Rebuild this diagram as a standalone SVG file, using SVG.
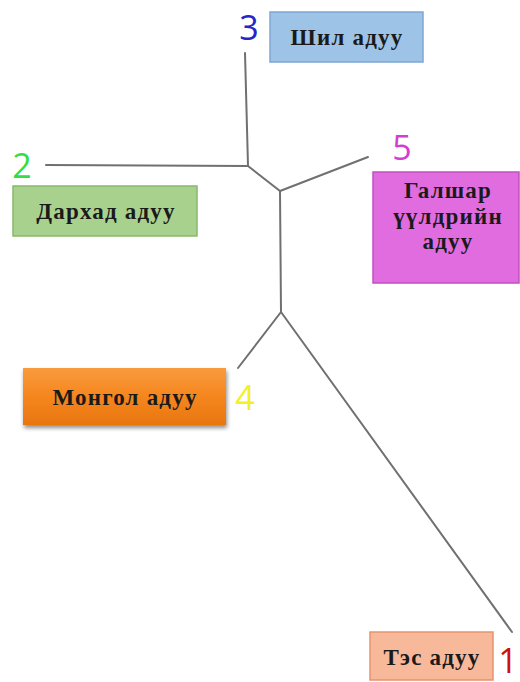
<svg xmlns="http://www.w3.org/2000/svg" width="520" height="682" viewBox="0 0 520 682">
<defs>
<linearGradient id="orange" x1="0" y1="0" x2="0" y2="1">
<stop offset="0" stop-color="#f99b3e"/>
<stop offset="0.5" stop-color="#f5861f"/>
<stop offset="1" stop-color="#e8760f"/>
</linearGradient>
<filter id="shadow" x="-10%" y="-10%" width="125%" height="135%">
<feGaussianBlur in="SourceAlpha" stdDeviation="2"/>
<feOffset dx="1" dy="3"/>
<feComponentTransfer><feFuncA type="linear" slope="0.45"/></feComponentTransfer>
<feMerge><feMergeNode/><feMergeNode in="SourceGraphic"/></feMerge>
</filter>
</defs>
<style>
.lbl{font-family:"Liberation Serif","Times New Roman",serif;font-weight:bold;font-size:23px;letter-spacing:1.2px;fill:#1a1a1a;text-anchor:middle}
.num{font-family:"Open Sans","Liberation Sans",sans-serif;font-size:34px;text-anchor:middle}
.edge{stroke:#707070;stroke-width:2;fill:none;stroke-linecap:round;stroke-linejoin:round}
</style>
<rect width="520" height="682" fill="#ffffff"/>
<g id="connectors">
<polyline class="edge" points="245,53 248,166 280,191 281,312 512,632"/>
<line class="edge" x1="46" y1="165" x2="248" y2="166"/>
<line class="edge" x1="280" y1="191" x2="368" y2="157"/>
<line class="edge" x1="281" y1="312" x2="238" y2="368"/>
</g>
<g id="node3">
<rect x="270" y="12" width="153" height="50" fill="#9dc3e6" stroke="#7fa6d2" stroke-width="1.5"/>
<text class="lbl" x="347" y="45">Шил адуу</text>
<text class="num" x="249" y="40" fill="#2626c8">3</text>
</g>
<g id="node2">
<rect x="13" y="186" width="184" height="50" fill="#a9d18e" stroke="#88b86a" stroke-width="1.5"/>
<text class="lbl" x="106" y="219">Дархад адуу</text>
<text class="num" x="22" y="178" fill="#33dd44">2</text>
</g>
<g id="node5">
<rect x="373" y="172" width="146" height="111" fill="#e06ce0" stroke="#c24fc2" stroke-width="1.5"/>
<text class="lbl" x="448" y="198">Галшар</text>
<text class="lbl" x="448" y="224">үүлдрийн</text>
<text class="lbl" x="448" y="249">адуу</text>
<text class="num" x="402" y="160" fill="#d23fd2">5</text>
</g>
<g id="node4">
<rect x="23" y="368" width="203" height="57" fill="url(#orange)" filter="url(#shadow)"/>
<text class="lbl" x="125" y="405">Монгол адуу</text>
<text class="num" x="245" y="410" fill="#f2f028">4</text>
</g>
<g id="node1">
<rect x="370" y="632" width="123" height="48" fill="#f8b89a" stroke="#e8926c" stroke-width="1.5"/>
<text class="lbl" x="432" y="665">Тэс адуу</text>
<text class="num" x="508" y="673" fill="#cc1111">1</text>
</g>
</svg>
